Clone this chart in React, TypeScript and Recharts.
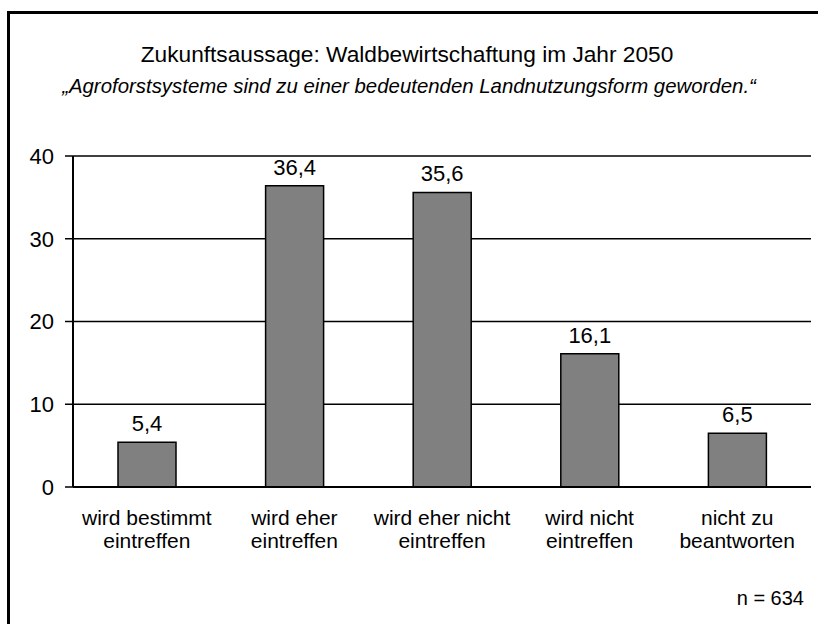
import { BarChart, Bar, XAxis, YAxis, CartesianGrid, LabelList } from 'recharts';

const categories = [
  'wird bestimmt\neintreffen',
  'wird eher\neintreffen',
  'wird eher nicht\neintreffen',
  'wird nicht\neintreffen',
  'nicht zu\nbeantworten',
];
const values = [5.4, 36.4, 35.6, 16.1, 6.5];
const yTicks = [0, 10, 20, 30, 40];

const data = categories.map((name, i) => ({ name, value: values[i] }));

const FONT = '"Liberation Sans", Arial, sans-serif';

function CategoryTick(props: any) {
  const { x, y, payload } = props;
  const lines = String(payload.value).split('\n');
  return (
    <text x={x} y={y} textAnchor="middle" fill="#000" fontSize={21} fontFamily={FONT}>
      {lines.map((line, i) => (
        <tspan key={i} x={x} y={y + 38 + i * 23}>
          {line}
        </tspan>
      ))}
    </text>
  );
}

export default function App() {
  return (
    <div
      style={{
        position: 'absolute',
        left: 0,
        top: 0,
        width: 818,
        height: 624,
        overflow: 'hidden',
        background: '#fff',
        fontFamily: FONT,
      }}
    >
      <div
        style={{
          position: 'absolute',
          left: 7,
          top: 11,
          width: 900,
          height: 800,
          borderLeft: '3px solid #000',
          borderTop: '3px solid #000',
        }}
      />
      <div
        style={{
          position: 'absolute',
          left: 0,
          width: 814,
          top: 43,
          textAlign: 'center',
          fontSize: 22.7,
          lineHeight: '22px',
          color: '#000',
        }}
      >
        Zukunftsaussage: Waldbewirtschaftung im Jahr 2050
      </div>
      <div
        style={{
          position: 'absolute',
          left: 0,
          width: 818,
          top: 76,
          textAlign: 'center',
          fontSize: 20.4,
          lineHeight: '20px',
          fontStyle: 'italic',
          color: '#000',
        }}
      >
        „Agroforstsysteme sind zu einer bedeutenden Landnutzungsform geworden.“
      </div>
      <div
        style={{
          position: 'absolute',
          right: 14,
          top: 588,
          fontSize: 20,
          lineHeight: '20px',
          color: '#000',
        }}
      >
        n = 634
      </div>
      <div style={{ position: 'absolute', left: 0, top: 0 }}>
        <BarChart
          width={818}
          height={624}
          data={data}
          margin={{ top: 156, right: 7, left: 13, bottom: 0 }}
          barCategoryGap={0}
        >
          <CartesianGrid yAxisId="left" vertical={false} stroke="#000" strokeWidth={1.5} />
          <XAxis
            dataKey="name"
            height={137}
            tickLine={false}
            tickSize={0}
            tickMargin={0}
            interval={0}
            axisLine={{ stroke: '#000', strokeWidth: 2 }}
            tick={<CategoryTick />}
          />
          <YAxis
            yAxisId="left"
            width={60}
            domain={[0, 40]}
            ticks={yTicks}
            interval={0}
            tickSize={8}
            tickMargin={11}
            axisLine={{ stroke: '#000', strokeWidth: 2 }}
            tickLine={{ stroke: '#000', strokeWidth: 1.5 }}
            tick={{ fill: '#000', fontSize: 22, fontFamily: FONT }}
          />
          <YAxis
            yAxisId="right"
            orientation="right"
            width={0}
            domain={[0, 40]}
            tick={false}
            tickLine={false}
            axisLine={{ stroke: '#000', strokeWidth: 2 }}
          />
          <Bar
            yAxisId="left"
            dataKey="value"
            fill="#808080"
            stroke="#000"
            strokeWidth={1.5}
            barSize={58}
            isAnimationActive={false}
          >
            <LabelList
              dataKey="value"
              position="top"
              offset={11}
              fill="#000"
              fontSize={22}
              fontFamily={FONT}
              formatter={(v: any) => Number(v).toFixed(1).replace('.', ',')}
            />
          </Bar>
        </BarChart>
      </div>
    </div>
  );
}
